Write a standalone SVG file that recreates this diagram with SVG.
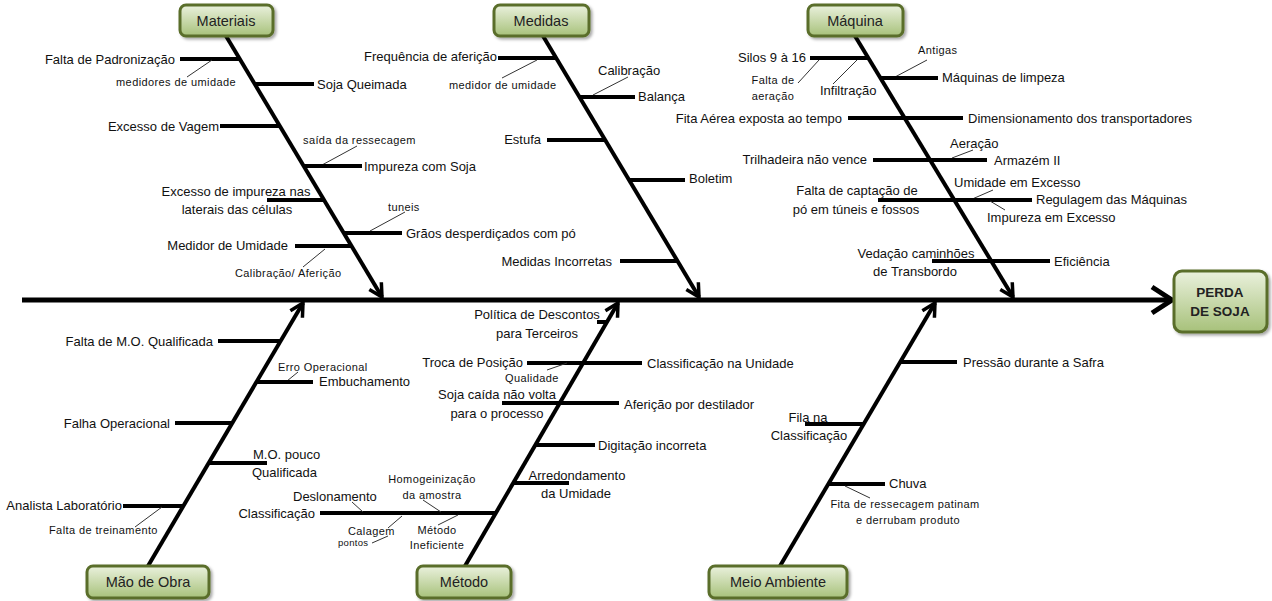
<svg xmlns="http://www.w3.org/2000/svg" width="1272" height="601" viewBox="0 0 1272 601">
<defs>
<linearGradient id="g" x1="0" y1="0" x2="0" y2="1">
<stop offset="0" stop-color="#eaf1dd"/>
<stop offset="1" stop-color="#a7c17a"/>
</linearGradient>
<filter id="sh" x="-20%" y="-20%" width="140%" height="150%">
<feDropShadow dx="2" dy="2" stdDeviation="1.5" flood-color="#000" flood-opacity="0.35"/>
</filter>
<marker id="a" markerUnits="userSpaceOnUse" markerWidth="30" markerHeight="30" viewBox="-15 -15 30 30" refX="0" refY="0" orient="auto" overflow="visible">
<path d="M-13,-7 L0,0 L-13,7" fill="none" stroke="#000" stroke-width="3.5"/>
</marker>
<style>
.t{font-family:"Liberation Sans",Arial,sans-serif;font-size:13px;fill:#111;dominant-baseline:central}
.s{font-size:11px;letter-spacing:0.4px}
.xs{font-size:9.5px;letter-spacing:0.3px}
.e{text-anchor:end}
.m{text-anchor:middle}
.bone{stroke:#000;stroke-width:4;fill:none}
.rib{stroke:#000;stroke-width:4}
.thin{stroke:#333;stroke-width:1}
.box{fill:url(#g);stroke:#5a6e2c;stroke-width:3;filter:url(#sh)}
.lbl{font-size:14.5px;text-anchor:middle;fill:#222}
.b{font-weight:bold;font-size:13.5px;text-anchor:middle;fill:#222}
</style>
</defs>
<rect width="1272" height="601" fill="#fff"/>

<g id="connectors">
<line x1="22" y1="300" x2="1170" y2="300" stroke="#000" stroke-width="5"/>
<polyline points="1152,287 1172,300 1152,313" fill="none" stroke="#000" stroke-width="5"/>
<line class="bone" x1="226" y1="36" x2="382" y2="297" marker-end="url(#a)"/>
<line class="bone" x1="543" y1="36" x2="699" y2="297" marker-end="url(#a)"/>
<line class="bone" x1="855" y1="36" x2="1013" y2="297" marker-end="url(#a)"/>
<line class="bone" x1="148" y1="566" x2="303" y2="303" marker-end="url(#a)"/>
<line class="bone" x1="465" y1="566" x2="618" y2="303" marker-end="url(#a)"/>
<line class="bone" x1="780" y1="566" x2="935" y2="303" marker-end="url(#a)"/>
</g>

<g id="materiais-causes">
<line class="rib" x1="180" y1="59" x2="240" y2="59"/>
<text class="t e" x="175" y="59">Falta de Padronização</text>
<line class="thin" x1="212" y1="60" x2="187" y2="77"/>
<text class="t s m" x="176" y="82">medidores de umidade</text>
<line class="rib" x1="255" y1="84" x2="314" y2="84"/>
<text class="t" x="317" y="84">Soja Queimada</text>
<line class="rib" x1="220" y1="126" x2="280" y2="126"/>
<text class="t e" x="219" y="126">Excesso de Vagem</text>
<text class="t s" x="303" y="140">saída da ressecagem</text>
<line class="thin" x1="357" y1="146" x2="322" y2="165"/>
<line class="rib" x1="304" y1="166" x2="362" y2="166"/>
<text class="t" x="364" y="166">Impureza com Soja</text>
<line class="rib" x1="267" y1="200" x2="324" y2="200"/>
<text class="t m" x="236" y="191">Excesso de impureza nas</text>
<text class="t m" x="237" y="209">laterais das células</text>
<text class="t s" x="388" y="207">tuneis</text>
<line class="thin" x1="370" y1="231" x2="405" y2="212"/>
<line class="rib" x1="344" y1="233" x2="402" y2="233"/>
<text class="t" x="406" y="233">Grãos desperdiçados com pó</text>
<line class="rib" x1="295" y1="246" x2="352" y2="246"/>
<text class="t e" x="288" y="245">Medidor de Umidade</text>
<line class="thin" x1="325" y1="249" x2="303" y2="267"/>
<text class="t s" x="235" y="273">Calibração/ Aferição</text>
</g>

<g id="medidas-causes">
<line class="rib" x1="498" y1="58" x2="556" y2="58"/>
<text class="t e" x="497" y="56">Frequência de aferição</text>
<line class="thin" x1="537" y1="60" x2="502" y2="78"/>
<text class="t s" x="449" y="85">medidor de umidade</text>
<text class="t" x="598" y="70">Calibração</text>
<line class="thin" x1="593" y1="95" x2="628" y2="77"/>
<line class="rib" x1="580" y1="97" x2="635" y2="97"/>
<text class="t" x="638" y="96">Balança</text>
<line class="rib" x1="547" y1="140" x2="605" y2="140"/>
<text class="t e" x="541" y="139">Estufa</text>
<line class="rib" x1="630" y1="180" x2="685" y2="180"/>
<text class="t" x="689" y="178">Boletim</text>
<line class="rib" x1="620" y1="261" x2="678" y2="261"/>
<text class="t e" x="612" y="261">Medidas Incorretas</text>
</g>

<g id="maquina-causes">
<line class="rib" x1="810" y1="58" x2="869" y2="58"/>
<text class="t e" x="806" y="57">Silos 9 à 16</text>
<line class="thin" x1="819" y1="60" x2="798" y2="83"/>
<text class="t s m" x="773" y="80">Falta de</text>
<text class="t s m" x="773" y="96">aeração</text>
<line class="thin" x1="857" y1="60" x2="833" y2="84"/>
<text class="t" x="820" y="90">Infiltração</text>
<text class="t s" x="918" y="50">Antigas</text>
<line class="thin" x1="895" y1="77" x2="927" y2="60"/>
<line class="rib" x1="880" y1="78" x2="938" y2="78"/>
<text class="t" x="942" y="77">Máquinas de limpeza</text>
<line class="rib" x1="848" y1="118" x2="963" y2="118"/>
<text class="t e" x="842" y="118">Fita Aérea exposta ao tempo</text>
<text class="t" x="968" y="118">Dimensionamento dos transportadores</text>
<text class="t" x="950" y="143">Aeração</text>
<line class="thin" x1="952" y1="158" x2="973" y2="150"/>
<line class="rib" x1="873" y1="160" x2="987" y2="160"/>
<text class="t e" x="867" y="159">Trilhadeira não vence</text>
<text class="t" x="994" y="160">Armazém II</text>
<text class="t" x="954" y="182">Umidade em Excesso</text>
<line class="thin" x1="993" y1="190" x2="970" y2="200"/>
<line class="rib" x1="878" y1="200" x2="1032" y2="200"/>
<text class="t m" x="857" y="190">Falta de captação de</text>
<text class="t m" x="856" y="209">pó em túneis e fossos</text>
<text class="t" x="1036" y="199">Regulagem das Máquinas</text>
<line class="thin" x1="990" y1="201" x2="1005" y2="210"/>
<text class="t" x="987" y="217">Impureza em Excesso</text>
<line class="rib" x1="932" y1="261" x2="1050" y2="261"/>
<text class="t m" x="916" y="253">Vedação caminhões</text>
<text class="t m" x="915" y="271">de Transbordo</text>
<text class="t" x="1054" y="261">Eficiência</text>
</g>

<g id="maodeobra-causes">
<line class="rib" x1="218" y1="341" x2="281" y2="341"/>
<text class="t e" x="213" y="341">Falta de M.O. Qualificada</text>
<text class="t s" x="278" y="367">Erro Operacional</text>
<line class="thin" x1="287" y1="381" x2="298" y2="372"/>
<line class="rib" x1="256" y1="382" x2="313" y2="382"/>
<text class="t" x="319" y="381">Embuchamento</text>
<line class="rib" x1="175" y1="423" x2="233" y2="423"/>
<text class="t e" x="170" y="423">Falha Operacional</text>
<line class="rib" x1="208" y1="463" x2="267" y2="463"/>
<text class="t" x="253" y="454">M.O. pouco</text>
<text class="t" x="252" y="472">Qualificada</text>
<line class="rib" x1="123" y1="506" x2="184" y2="506"/>
<text class="t e" x="122" y="505">Analista Laboratório</text>
<line class="thin" x1="162" y1="507" x2="135" y2="527"/>
<text class="t s" x="49" y="530">Falta de treinamento</text>
</g>

<g id="metodo-causes">
<line class="rib" x1="597" y1="322" x2="608" y2="322"/>
<text class="t m" x="537" y="314">Política de Descontos</text>
<text class="t m" x="537" y="333">para Terceiros</text>
<line class="rib" x1="527" y1="363" x2="642" y2="363"/>
<text class="t e" x="523" y="362">Troca de Posição</text>
<text class="t" x="647" y="363">Classificação na Unidade</text>
<line class="thin" x1="547" y1="370" x2="567" y2="363"/>
<text class="t s" x="505" y="378">Qualidade</text>
<line class="rib" x1="502" y1="403" x2="619" y2="403"/>
<text class="t m" x="497" y="394">Soja caída não volta</text>
<text class="t m" x="497" y="413">para o processo</text>
<text class="t" x="624" y="404">Aferição por destilador</text>
<line class="rib" x1="535" y1="445" x2="595" y2="445"/>
<text class="t" x="598" y="445">Digitação incorreta</text>
<line class="rib" x1="513" y1="483" x2="569" y2="483"/>
<text class="t m" x="577" y="475">Arredondamento</text>
<text class="t m" x="576" y="493">da Umidade</text>
<line class="rib" x1="320" y1="513" x2="496" y2="513"/>
<text class="t e" x="315" y="513">Classificação</text>
<text class="t" x="293" y="496">Deslonamento</text>
<line class="thin" x1="352" y1="502" x2="363" y2="512"/>
<text class="t s m" x="432" y="479">Homogeinização</text>
<text class="t s m" x="432" y="495">da amostra</text>
<line class="thin" x1="423" y1="500" x2="441" y2="512"/>
<line class="thin" x1="402" y1="516" x2="388" y2="528"/>
<text class="t s" x="348" y="531">Calagem</text>
<line class="thin" x1="388" y1="536" x2="372" y2="543"/>
<text class="t xs" x="338" y="542">pontos</text>
<line class="thin" x1="458" y1="515" x2="438" y2="525"/>
<text class="t s m" x="437" y="530">Método</text>
<text class="t s m" x="437" y="545">Ineficiente</text>
</g>

<g id="meioambiente-causes">
<line class="rib" x1="900" y1="362" x2="957" y2="362"/>
<text class="t" x="963" y="362">Pressão durante a Safra</text>
<line class="rib" x1="805" y1="424" x2="864" y2="424"/>
<text class="t m" x="808" y="417">Fila na</text>
<text class="t m" x="809" y="435">Classificação</text>
<line class="rib" x1="828" y1="484" x2="885" y2="484"/>
<text class="t" x="889" y="483">Chuva</text>
<line class="thin" x1="845" y1="486" x2="870" y2="498"/>
<text class="t s m" x="905" y="504">Fita de ressecagem patinam</text>
<text class="t s m" x="908" y="520">e derrubam produto</text>
</g>

<g id="node-materiais">
<rect class="box" x="180" y="5" width="93" height="31" rx="6"/>
<text class="t lbl" x="226" y="21">Materiais</text>
</g>
<g id="node-medidas">
<rect class="box" x="494" y="5" width="95" height="31" rx="6"/>
<text class="t lbl" x="541" y="21">Medidas</text>
</g>
<g id="node-maquina">
<rect class="box" x="808" y="5" width="95" height="31" rx="6"/>
<text class="t lbl" x="855" y="21">Máquina</text>
</g>
<g id="node-maodeobra">
<rect class="box" x="87" y="566" width="122" height="32" rx="6"/>
<text class="t lbl" x="148" y="582">Mão de Obra</text>
</g>
<g id="node-metodo">
<rect class="box" x="417" y="566" width="94" height="32" rx="6"/>
<text class="t lbl" x="464" y="582">Método</text>
</g>
<g id="node-meioambiente">
<rect class="box" x="709" y="566" width="138" height="32" rx="6"/>
<text class="t lbl" x="778" y="582">Meio Ambiente</text>
</g>
<g id="node-perda">
<rect class="box" x="1174" y="271" width="93" height="61" rx="8"/>
<text class="t b" x="1220" y="292">PERDA</text>
<text class="t b" x="1220" y="311">DE SOJA</text>
</g>
</svg>
